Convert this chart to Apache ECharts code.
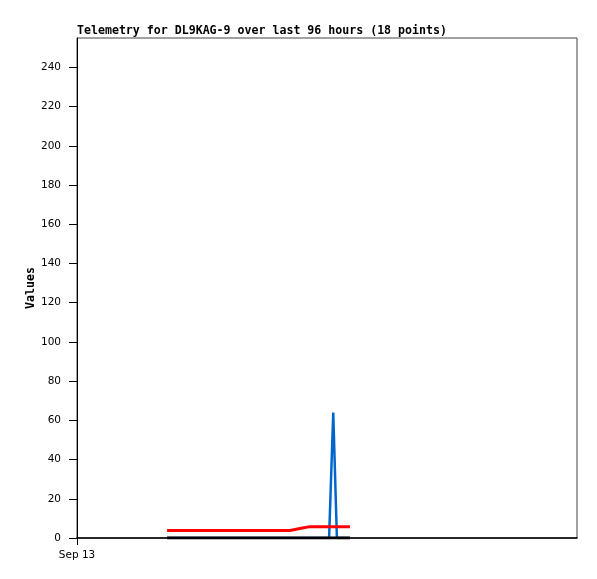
<!DOCTYPE html>
<html>
<head>
<meta charset="utf-8">
<script src="https://cdn.jsdelivr.net/npm/echarts@6/dist/echarts.min.js"></script>
<style>html,body{margin:0;padding:0;background:#fff}#c{width:597px;height:579px}</style>
</head>
<body>
<div id="c"></div>
<script>
// hours since Sep 13 00:00
var hours = [17.3, 20.7, 23.6, 26.5, 29.4, 32.3, 35.1, 38.0, 40.9, 42.8, 44.7, 46.7, 48.4, 49.2, 49.9, 50.7, 51.6, 52.4];
var redValues   = [3.8, 3.8, 3.8, 3.8, 3.8, 3.8, 3.8, 3.8, 3.8, 4.8, 5.8, 5.8, 5.8, 5.8, 5.8, 5.8, 5.8, 5.8];
var blueValues  = [0, 0, 0, 0, 0, 0, 0, 0, 0, 0, 0, 0, 0, 64, 0, 0, 0, 0];
var blackValues = [0, 0, 0, 0, 0, 0, 0, 0, 0, 0, 0, 0, 0, 0, 0, 0, 0, 0];
var yTicks = [0, 20, 40, 60, 80, 100, 120, 140, 160, 180, 200, 220, 240];
var xTicks = [0];
var xTickLabels = ['Sep 13'];
var titleText = 'Telemetry for DL9KAG-9 over last 96 hours (18 points)';

function pairs(vals) { return hours.map(function (h, i) { return [h, vals[i]]; }); }

var mono = '"DejaVu Sans Mono", monospace';
var chart = echarts.init(document.getElementById('c'), null, { renderer: 'canvas' });
chart.setOption({
  animation: false,
  backgroundColor: '#fff',
  title: {
    text: titleText, left: 77, top: 25, padding: 0,
    textStyle: { fontFamily: mono, fontSize: 11.6, fontWeight: 'bold', color: '#000' }
  },
  grid: { left: 77, right: 20, top: 38, bottom: 41, show: true, borderColor: '#444', borderWidth: 1, backgroundColor: 'transparent' },
  xAxis: {
    type: 'value', min: 0, max: 96,
    axisLine: { show: true, lineStyle: { color: '#000', width: 1.5 } },
    axisTick: { show: true, length: 7, customValues: xTicks, lineStyle: { color: '#000' } },
    axisLabel: { show: true, customValues: xTicks, margin: 12,
      formatter: function (v) { var i = xTicks.indexOf(v); return i >= 0 ? xTickLabels[i] : ''; },
      fontFamily: '"DejaVu Sans", sans-serif', fontSize: 10.5, color: '#000' },
    splitLine: { show: false }
  },
  yAxis: {
    type: 'value', min: 0, max: 255,
    name: 'Values', nameLocation: 'middle', nameGap: 40, nameRotate: 90, nameMoveOverlap: false,
    nameTextStyle: { fontFamily: mono, fontSize: 11.6, fontWeight: 'bold', color: '#000' },
    axisLine: { show: true, lineStyle: { color: '#000', width: 1 } },
    axisTick: { show: true, length: 8, customValues: yTicks, lineStyle: { color: '#000' } },
    axisLabel: { show: true, customValues: yTicks, margin: 16,
      fontFamily: '"DejaVu Sans", sans-serif', fontSize: 10.5, color: '#000' },
    splitLine: { show: false }
  },
  series: [
    { type: 'line', data: pairs(blueValues), showSymbol: false, lineStyle: { color: '#0066cc', width: 2.5 }, z: 2 },
    { type: 'line', data: pairs(redValues), showSymbol: false, lineStyle: { color: '#ff0000', width: 3 }, z: 3 },
    { type: 'line', data: pairs(blackValues), showSymbol: false, lineStyle: { color: '#000', width: 3 }, z: 4 }
  ]
});
</script>
</body>
</html>
